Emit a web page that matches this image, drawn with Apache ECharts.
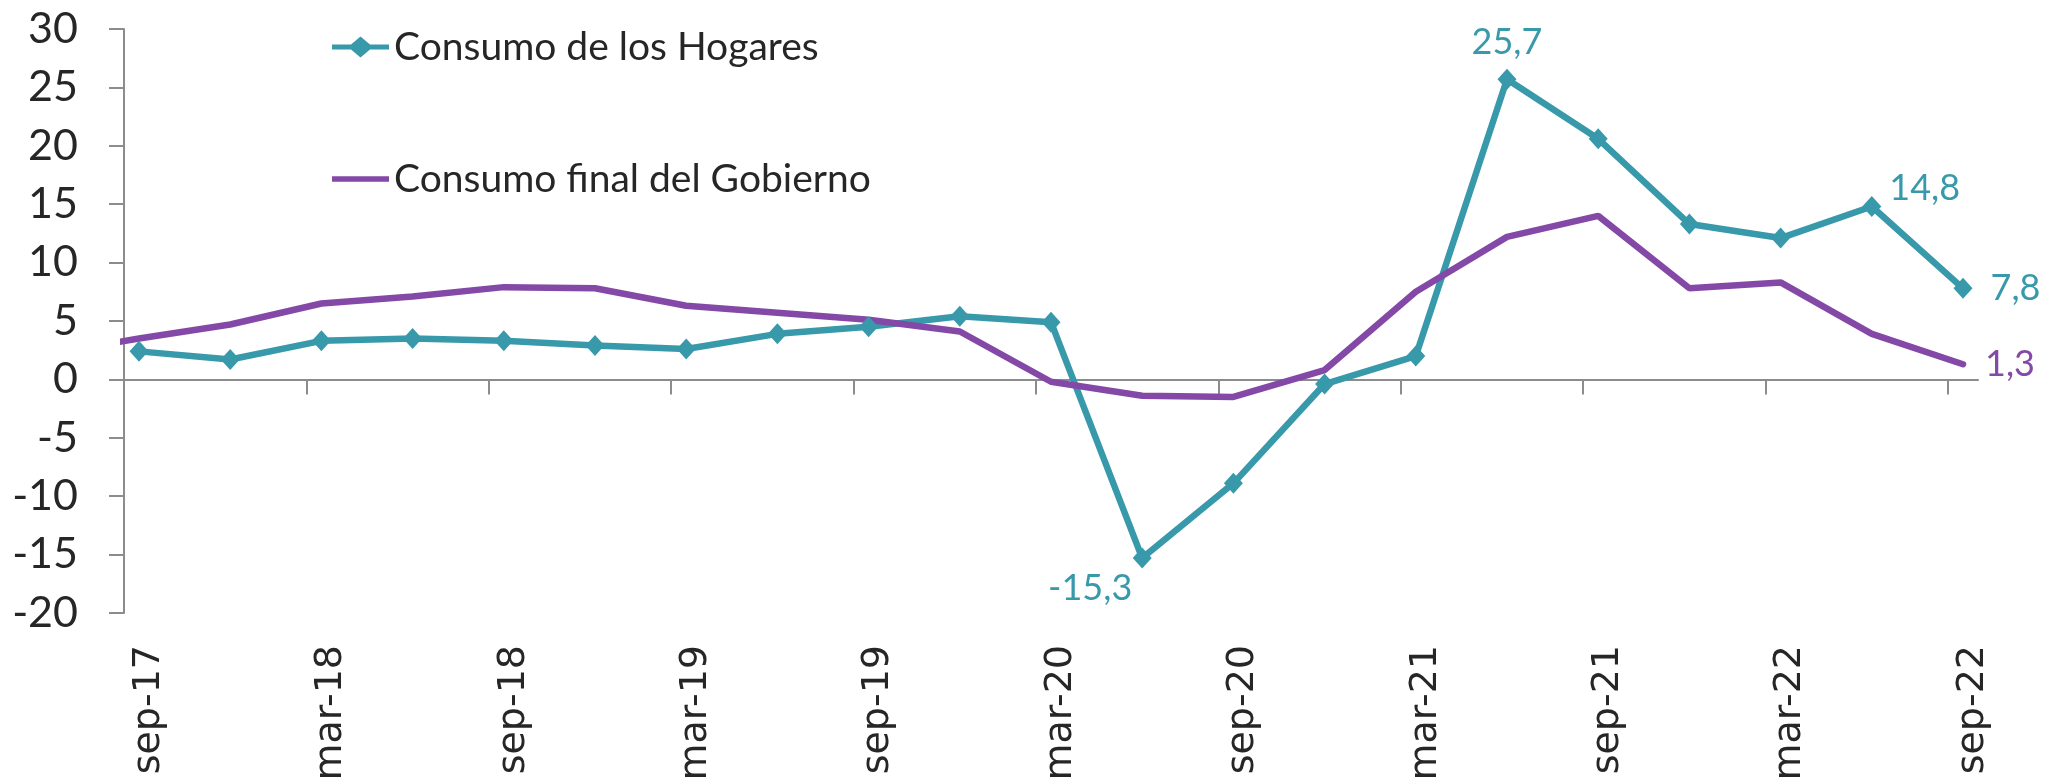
<!DOCTYPE html>
<html>
<head>
<meta charset="utf-8">
<script src="https://cdn.jsdelivr.net/npm/echarts@6/dist/echarts.min.js"></script>
<style>
  html, body { margin: 0; padding: 0; background: #fff; }
  #chart { width: 2057px; height: 784px; }
</style>
</head>
<body>
<div id="chart"></div>
<script>
// quarters, jun-17 only carries the government value (clipped by the axis)
const categories = ['jun-17', 'sep-17', 'dic-17', 'mar-18', 'jun-18', 'sep-18', 'dic-18', 'mar-19', 'jun-19',
  'sep-19', 'dic-19', 'mar-20', 'jun-20', 'sep-20', 'dic-20', 'mar-21', 'jun-21', 'sep-21', 'dic-21',
  'mar-22', 'jun-22', 'sep-22']
const hogares = [null, 2.4, 1.7, 3.3, 3.5, 3.3, 2.9, 2.6, 3.9, 4.5, 5.4, 4.9, -15.3, -8.9, -0.4, 2.0,
  25.7, 20.6, 13.3, 12.1, 14.8, 7.8]
const gobierno = [2.2, 3.5, 4.7, 6.5, 7.1, 7.9, 7.8, 6.3, 5.7, 5.1, 4.1, -0.2, -1.4, -1.5, 0.8, 7.5,
  12.2, 14.0, 7.8, 8.3, 3.9, 1.3]
const yTicks = [-20, -10, 0, 10, 20, 30]  // axis range -20..30, step 5

const TEAL = '#3899ab'
const PURPLE = '#8449a7'
const TEXT = '#262626'
const AXIS = '#8c8c8c'

const fmt = v => v.toFixed(1).replace('.', ',')

// label placement for the annotated points
const labelPos = {
  'jun-20': { position: 'bottom', distance: 2, offset: [-52, 0] },
  'jun-21': { position: 'top', distance: 8 },
  'jun-22': { position: 'right', distance: 8, offset: [0, -18] },
  'sep-22': { position: 'right', distance: 18 }
}

// the axis starts a bit before sep-17 and ends a bit after sep-22
const xMin = 1 - 0.1645
const xMax = 21 + 0.1645
const tickVals = []
for (let k = 1; k <= 10; k++) tickVals.push(xMin + 2 * k)
const labelVals = []
for (let i = 1; i < categories.length; i += 2) labelVals.push(i)

const hogData = []
hogares.forEach((v, i) => {
  if (v === null) return
  const lp = labelPos[categories[i]]
  if (lp) {
    hogData.push({
      value: [i, v],
      label: Object.assign({
        show: true,
        formatter: p => fmt(p.value[1]),
        color: TEAL,
        fontFamily: 'Lato',
        fontSize: 36
      }, lp)
    })
  } else {
    hogData.push([i, v])
  }
})
const gobData = gobierno.map((v, i) => [i, v])

// legend icons: line with diamond, plain line
const iconHog = 'path://M0,8 L19,8 L28.5,0 L38,8 L57,8 L57,13 L38,13 L28.5,21 L19,13 L0,13 Z'
const iconGob = 'path://M0,0 L57,0 L57,5.5 L0,5.5 Z'

const option = {
  animation: false,
  backgroundColor: '#fff',
  grid: { left: 124, right: 79, top: 29, bottom: 171 },
  legend: {
    orient: 'vertical',
    left: 327,
    top: 22,
    itemWidth: 57,
    itemHeight: 24,
    itemGap: 92,
    itemStyle: { borderWidth: 0 },
    textStyle: { fontFamily: 'Lato', fontSize: 39, color: TEXT, lineHeight: 40 },
    data: [
      { name: 'Consumo de los Hogares', icon: iconHog },
      { name: 'Consumo final del Gobierno', icon: iconGob }
    ]
  },
  xAxis: [
    {
      type: 'value',
      position: 'top',
      min: xMin,
      max: xMax,
      axisLine: { onZero: true, lineStyle: { color: AXIS, width: 2 } },
      axisTick: { show: true, inside: true, length: 15, customValues: tickVals, lineStyle: { color: AXIS, width: 2 } },
      axisLabel: { show: false },
      splitLine: { show: false }
    },
    {
      type: 'value',
      position: 'bottom',
      min: xMin,
      max: xMax,
      axisLine: { show: false, onZero: false },
      axisTick: { show: false },
      splitLine: { show: false },
      axisLabel: {
        customValues: labelVals,
        formatter: v => categories[Math.round(v)],
        rotate: 90,
        margin: 32,
        verticalAlign: 'top',
        lineHeight: 20,
        fontFamily: 'DejaVu Sans',
        fontSize: 38,
        color: TEXT
      }
    }
  ],
  yAxis: {
    type: 'value',
    min: yTicks[0],
    max: yTicks[yTicks.length - 1],
    interval: 5,
    axisLine: { show: true, lineStyle: { color: AXIS, width: 2 } },
    axisTick: { show: true, length: 15, lineStyle: { color: AXIS, width: 2 } },
    splitLine: { show: false },
    axisLabel: { margin: 46, fontFamily: 'Lato', fontSize: 43, color: TEXT }
  },
  series: [
    {
      name: 'Consumo de los Hogares',
      type: 'line',
      xAxisIndex: 0,
      data: hogData,
      symbol: 'diamond',
      symbolSize: [19, 21],
      lineStyle: { color: TEAL, width: 6.5 },
      itemStyle: { color: TEAL }
    },
    {
      name: 'Consumo final del Gobierno',
      type: 'line',
      xAxisIndex: 0,
      data: gobData,
      symbol: 'none',
      lineStyle: { color: PURPLE, width: 6.5, cap: 'round' },
      itemStyle: { color: PURPLE },
      endLabel: {
        show: true,
        distance: 22,
        formatter: p => fmt(p.value[1]),
        color: PURPLE,
        fontFamily: 'Lato',
        fontSize: 36
      }
    }
  ]
}

const chart = echarts.init(document.getElementById('chart'))
chart.setOption(option)
</script>
</body>
</html>
